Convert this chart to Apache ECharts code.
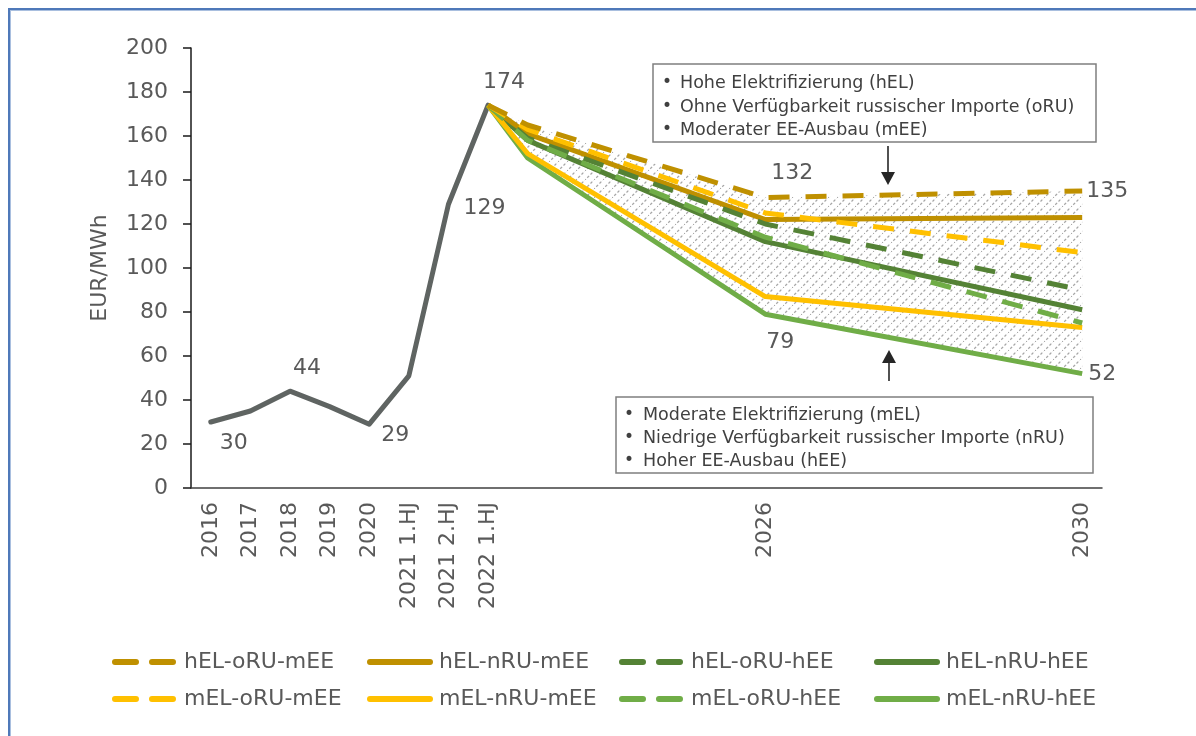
<!DOCTYPE html>
<html>
<head>
<meta charset="utf-8">
<script src="https://cdn.jsdelivr.net/npm/echarts@6/dist/echarts.min.js"></script>
<style>
  html, body { margin: 0; padding: 0; background: #ffffff; overflow: hidden; }
  #frame { position: absolute; left: 8px; top: 8px; width: 1400px; height: 1000px;
           border-top: 2px solid #4f79b9; border-left: 2px solid #4f79b9;
           box-shadow: inset 1px 1px 0 #a9bfdf; }
  #chart { position: absolute; left: 0; top: 0; width: 1196px; height: 736px; }
</style>
</head>
<body>
<div id="frame"></div>
<div id="chart"></div>
<script>
// Category axis: years / half-years; only some of them carry a tick label
const categories = ['2016', '2017', '2018', '2019', '2020', '2021 1.HJ', '2021 2.HJ', '2022 1.HJ',
  '2022 2.HJ', '2023 1.HJ', '2023 2.HJ', '2024 1.HJ', '2024 2.HJ', '2025 1.HJ', '2026',
  '2026 2.HJ', '2027 1.HJ', '2027 2.HJ', '2028 1.HJ', '2028 2.HJ', '2029 1.HJ', '2029 2.HJ', '2030'];
const tickLabels = ['2016', '2017', '2018', '2019', '2020', '2021 1.HJ', '2021 2.HJ', '2022 1.HJ', '2026', '2030'];

// Historical price (EUR/MWh), 2016 .. 2022 1.HJ
const history = [30, 35, 44, 37, 29, 51, 129, 174];
const historyLabelIdx = [0, 2, 4, 6, 7];

// Scenario paths: values at the category positions listed in scenarioIdx
const scenarioIdx = [7, 8, 14, 22];
const hEL_oRU_mEE = [174, 165, 132, 135];
const hEL_nRU_mEE = [174, 161, 122, 123];
const hEL_oRU_hEE = [174, 159, 120, 90];
const hEL_nRU_hEE = [174, 158, 112, 81];
const mEL_oRU_mEE = [174, 163, 125, 107];
const mEL_nRU_mEE = [174, 152, 87, 73];
const mEL_oRU_hEE = [174, 158, 114, 75];
const mEL_nRU_hEE = [174, 150, 79, 52];

const scenarios = [
  { name: 'hEL-oRU-mEE', values: hEL_oRU_mEE, color: '#BF9000', dashed: true },
  { name: 'hEL-nRU-mEE', values: hEL_nRU_mEE, color: '#BF9000', dashed: false },
  { name: 'hEL-oRU-hEE', values: hEL_oRU_hEE, color: '#548235', dashed: true },
  { name: 'hEL-nRU-hEE', values: hEL_nRU_hEE, color: '#548235', dashed: false },
  { name: 'mEL-oRU-mEE', values: mEL_oRU_mEE, color: '#FFC000', dashed: true },
  { name: 'mEL-nRU-mEE', values: mEL_nRU_mEE, color: '#FFC000', dashed: false },
  { name: 'mEL-oRU-hEE', values: mEL_oRU_hEE, color: '#70AD47', dashed: true },
  { name: 'mEL-nRU-hEE', values: mEL_nRU_hEE, color: '#70AD47', dashed: false }
];

const FONT = 'DejaVu Sans';
const TEXT = '#595959';
const DASH = [21, 16];

// Spread a scenario's values onto the full category axis
function spread(vals) {
  const out = categories.map(() => null);
  scenarioIdx.forEach((ix, k) => { out[ix] = vals[k]; });
  return out;
}

// Envelope of all scenarios (hatched corridor)
const bandTop = scenarioIdx.map((_, k) => Math.max(...scenarios.map(s => s.values[k])));
const bandBottom = scenarioIdx.map((_, k) => Math.min(...scenarios.map(s => s.values[k])));

// Diagonal hatch pattern for the corridor
function makeHatch() {
  const n = 9;
  const c = document.createElement('canvas');
  c.width = n; c.height = n;
  const g = c.getContext('2d');
  g.strokeStyle = '#a6a6a6';
  g.lineWidth = 1.3;
  g.setLineDash([2.6, 2]);
  g.beginPath();
  g.moveTo(-1, n + 1); g.lineTo(n + 1, -1);
  g.stroke();
  return c;
}
const hatch = { image: makeHatch(), repeat: 'repeat' };

function valueMark(ix, val, dx, dy) {
  return {
    coord: [ix, val], value: val,
    label: { offset: [dx, dy] }
  };
}
const markBase = {
  symbol: 'circle', symbolSize: 1, silent: true,
  itemStyle: { color: 'rgba(0,0,0,0)' },
  label: { show: true, position: 'inside', color: TEXT, fontSize: 22, fontFamily: FONT,
           formatter: p => String(p.value) }
};

const historyOffsets = { 0: [23, 21], 2: [17, -23], 4: [26, 11], 6: [36, 4], 7: [16, -23] };

const series = [];

series.push({
  type: 'custom', silent: true, z: 1,
  data: [[scenarioIdx[0], bandTop[0]]],
  renderItem: function (params, api) {
    const top = scenarioIdx.map((ix, k) => api.coord([ix, bandTop[k]]));
    const bot = scenarioIdx.map((ix, k) => api.coord([ix, bandBottom[k]])).reverse();
    return { type: 'polygon', shape: { points: top.concat(bot) }, style: { fill: hatch, stroke: null } };
  }
});

series.push({
  name: 'history', type: 'line', z: 3,
  data: categories.map((_, i) => (i < history.length ? history[i] : null)),
  symbol: 'none', connectNulls: false,
  lineStyle: { color: '#5f6462', width: 5, join: 'round', cap: 'round' },
  itemStyle: { color: '#5f6462' },
  markPoint: Object.assign({}, markBase, {
    data: historyLabelIdx.map(i => valueMark(i, history[i], historyOffsets[i][0], historyOffsets[i][1]))
  })
});

const drawOrder = [3, 1, 7, 5, 2, 6, 4, 0];
drawOrder.forEach((si, order) => {
  const s = scenarios[si];
  const ser = {
    name: s.name, type: 'line', z: 4 + order,
    data: spread(s.values), connectNulls: true, symbol: 'none',
    lineStyle: { color: s.color, width: 5, type: s.dashed ? DASH : 'solid', join: 'round' },
    itemStyle: { color: s.color }
  };
  if (s.name === 'hEL-oRU-mEE') {
    ser.markPoint = Object.assign({}, markBase, {
      data: [valueMark(scenarioIdx[2], s.values[2], 27, -24), valueMark(scenarioIdx[3], s.values[3], 25, 0)]
    });
  }
  if (s.name === 'mEL-nRU-hEE') {
    ser.markPoint = Object.assign({}, markBase, {
      data: [valueMark(scenarioIdx[2], s.values[2], 15, 28), valueMark(scenarioIdx[3], s.values[3], 20, 1)]
    });
  }
  series.push(ser);
});

// Legend laid out as a 4 x 2 grid
const legendCols = [112, 367, 619, 874];
const legendRows = [651, 688];
const legends = scenarios.map((s, i) => ({
  data: [s.name], left: legendCols[i % 4], top: legendRows[Math.floor(i / 4)],
  padding: 0, itemWidth: 60, itemHeight: 14, selectedMode: false,
  itemStyle: { opacity: 0, borderWidth: 0 },
  lineStyle: { width: 6, cap: 'round' },
  textStyle: { color: TEXT, fontSize: 22, fontFamily: FONT, padding: [0, 0, 0, 4] }
}));

// Annotation boxes and arrows
function box(x, y, w, h, lines, lineY, bulletX, textX) {
  const els = [{
    type: 'rect', shape: { x: x, y: y, width: w, height: h },
    style: { fill: '#ffffff', stroke: '#7f7f7f', lineWidth: 1.5 }, z: 100
  }];
  lines.forEach((t, k) => {
    els.push({ type: 'text', x: bulletX, y: lineY[k], z: 101,
      style: { text: '•', fill: '#404040', font: '17px "' + FONT + '"', verticalAlign: 'middle' } });
    els.push({ type: 'text', x: textX, y: lineY[k], z: 101,
      style: { text: t, fill: '#404040', font: '17.5px "' + FONT + '"', verticalAlign: 'middle' } });
  });
  return els;
}
function arrow(x, yTail, yTip) {
  const dir = yTip > yTail ? 1 : -1;
  return [
    { type: 'line', shape: { x1: x, y1: yTail, x2: x, y2: yTip - dir * 10 },
      style: { stroke: '#262626', lineWidth: 1.6 }, z: 100 },
    { type: 'polygon', shape: { points: [[x - 7, yTip - dir * 13], [x + 7, yTip - dir * 13], [x, yTip]] },
      style: { fill: '#262626' }, z: 100 }
  ];
}

const graphics = []
  .concat(box(653, 64, 443, 78,
    ['Hohe Elektrifizierung (hEL)', 'Ohne Verfügbarkeit russischer Importe (oRU)', 'Moderater EE-Ausbau (mEE)'],
    [83, 107, 130], 662, 680))
  .concat(box(616, 397, 477, 76,
    ['Moderate Elektrifizierung (mEL)', 'Niedrige Verfügbarkeit russischer Importe (nRU)', 'Hoher EE-Ausbau (hEE)'],
    [415, 438, 461], 624, 643))
  .concat(arrow(888, 146, 185))
  .concat(arrow(889, 381, 350));

const chart = echarts.init(document.getElementById('chart'), null, { renderer: 'canvas' });
chart.setOption({
  animation: false,
  textStyle: { fontFamily: FONT },
  grid: { left: 191, right: 94, top: 48, bottom: 248, containLabel: false },
  legend: legends,
  xAxis: {
    type: 'category', data: categories, boundaryGap: true,
    axisLine: { lineStyle: { color: '#404040', width: 1.5 } },
    axisTick: { show: false },
    axisLabel: {
      rotate: 90, margin: 14, color: TEXT, fontSize: 22, fontFamily: FONT,
      interval: (i, v) => tickLabels.indexOf(v) >= 0
    },
    splitLine: { show: false }
  },
  yAxis: {
    type: 'value', min: 0, max: 200, interval: 20,
    name: 'EUR/MWh', nameLocation: 'middle', nameRotate: 90, nameGap: 80,
    nameTextStyle: { color: TEXT, fontSize: 22, fontFamily: FONT },
    axisLine: { show: true, lineStyle: { color: '#1a1a1a', width: 1.5 } },
    axisTick: { show: true, length: 8, lineStyle: { color: '#1a1a1a', width: 1.5 } },
    axisLabel: { color: TEXT, fontSize: 22, fontFamily: FONT, margin: 23 },
    splitLine: { show: false }
  },
  graphic: graphics,
  series: series
});
</script>
</body>
</html>
